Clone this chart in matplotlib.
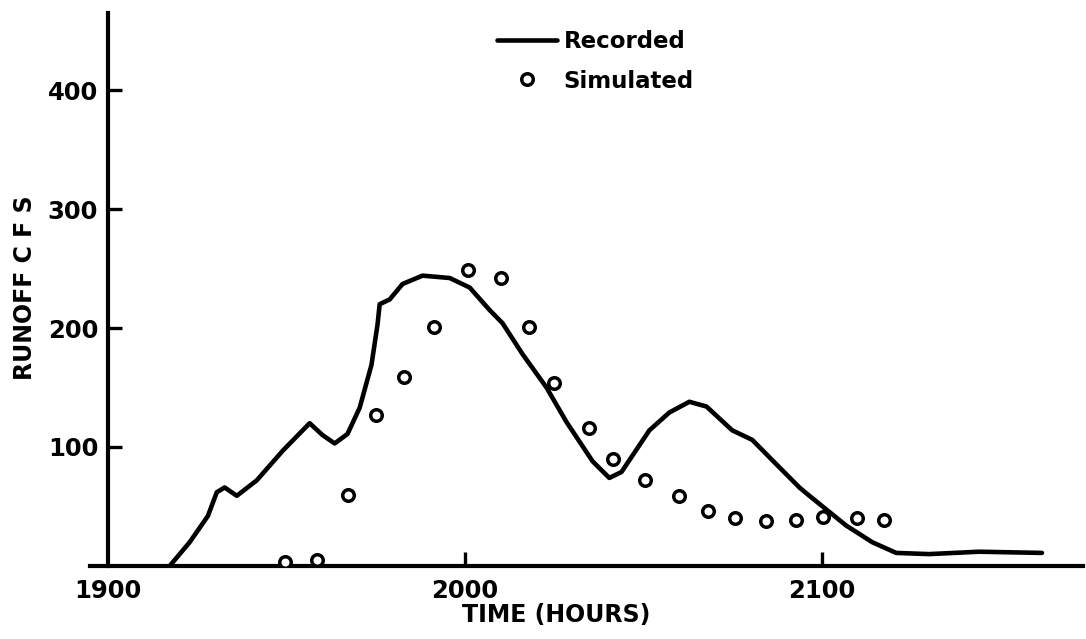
import matplotlib
matplotlib.use("Agg")
import matplotlib.pyplot as plt

# Recorded runoff hydrograph (hours, cfs)
rec_hours = [1917.3, 1922.9, 1928.0, 1930.5, 1932.7, 1936.1, 1941.7, 1949.0, 1956.5,
             1960.1, 1963.5, 1967.1, 1970.5, 1973.8, 1975.5, 1976.1, 1978.9, 1982.5,
             1988.1, 1995.7, 2001.3, 2006.9, 2010.5, 2016.1, 2022.8, 2028.4, 2035.7,
             2040.4, 2043.8, 2051.6, 2057.2, 2062.8, 2067.6, 2074.8, 2080.4, 2086.0,
             2093.6, 2096.4, 2106.7, 2114.0, 2120.7, 2129.9, 2143.9, 2161.5]
rec_cfs = [0, 20, 42, 62, 66, 59, 72, 97, 120,
           110, 103, 111, 133, 169, 203, 220, 224, 237,
           244, 242, 234, 215, 204, 178, 150, 121, 88,
           74, 79, 114, 129, 138, 134, 114, 106, 89,
           66, 59, 34, 20, 11, 10, 12, 11]

# Simulated runoff (hours, cfs)
sim_hours = [1949.5, 1958.5, 1967.1, 1975.2, 1982.8, 1991.2, 2000.7, 2010.2, 2017.8,
             2024.8, 2034.8, 2041.5, 2050.5, 2060.0, 2068.1, 2075.7, 2084.3, 2092.7,
             2100.3, 2109.8, 2117.3]
sim_cfs = [3, 5, 60, 127, 159, 201, 249, 242, 201,
           154, 116, 90, 72, 59, 46, 40, 38, 39,
           41, 40, 39]

xticks = [1900, 2000, 2100]
yticks = [100, 200, 300, 400]

plt.rcParams['font.family'] = ['DejaVu Sans']
plt.rcParams['font.weight'] = 'bold'

W, H = 1086, 639
BASE = 566
fig = plt.figure(figsize=(W / 100, H / 100), dpi=100)
ax = fig.add_axes([90 / W, (H - BASE) / H, 993 / W, (BASE - 13) / H])

ax.plot(rec_hours, rec_cfs, color='black', lw=3.3, solid_capstyle='round',
        solid_joinstyle='round', label='Recorded', zorder=3)
ax.plot(sim_hours, sim_cfs, linestyle='none', marker='o', markersize=8.3,
        markerfacecolor='white', markeredgecolor='black', markeredgewidth=2.5,
        label='Simulated', zorder=4)

ax.set_xlim(1895, 2173)
ax.set_ylim(0, (BASE - 13) / 1.19)

for s in ['top', 'right']:
    ax.spines[s].set_visible(False)
ax.spines['left'].set_position(('data', 1900))
ax.spines['left'].set_linewidth(3)
ax.spines['bottom'].set_linewidth(3)

ax.set_xticks(xticks)
ax.set_xticklabels([str(t) for t in xticks])
ax.set_yticks(yticks)
ax.set_yticklabels([str(t) for t in yticks])
ax.tick_params(axis='both', direction='in', length=10, width=2.4, labelsize=17.5)
ax.tick_params(axis='x', pad=9)
ax.tick_params(axis='y', pad=7)
ax.xaxis.get_major_ticks()[0].tick1line.set_visible(False)
for lbl in ax.get_xticklabels() + ax.get_yticklabels():
    lbl.set_fontweight('bold')

ax.set_xlabel('TIME (HOURS)', fontsize=17, fontweight='bold')
ax.xaxis.set_label_coords((556 - 90) / 993, (BASE - 603) / (BASE - 13))
ax.set_ylabel('RUNOFF C F S', fontsize=17, fontweight='bold')
ax.yaxis.set_label_coords((37 - 90) / 993, (BASE - 288) / (BASE - 13))

leg = ax.legend(loc='upper left',
                bbox_to_anchor=((497 - 90) / 993, (BASE - 30) / (BASE - 13)),
                frameon=False, fontsize=16.5, handlelength=2.6, handletextpad=0.3,
                labelspacing=0.72, borderpad=0, borderaxespad=0)
for t in leg.get_texts():
    t.set_fontweight('bold')

fig.savefig('out.png', dpi=100)
